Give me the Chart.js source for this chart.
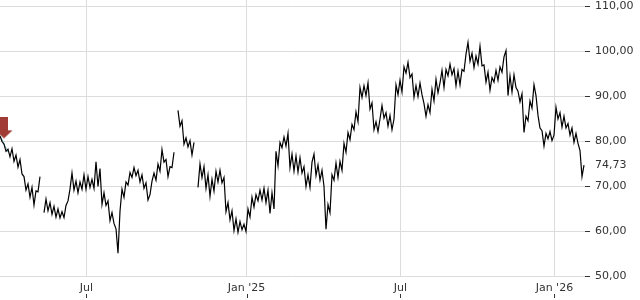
<!DOCTYPE html>
<html>
<head>
<meta charset="utf-8">
<script src="https://cdn.jsdelivr.net/npm/chart.js@4.4.1/dist/chart.umd.min.js"></script>
<style>
  body { margin: 0; background: #fff; }
  #wrap { width: 640px; height: 300px; }
</style>
</head>
<body>
<div id="wrap"><canvas id="priceChart" width="640" height="300"></canvas></div>
<script>
// Price series, one sample per step (null = gap in trading)
const prices = [
  81.2, 80.0, 79.4, 77.8, 78.3, 76.6, 78.4, 75.6, 77.0, 74.3,
  76.0, 72.8, 72.2, 69.2, 70.6, 67.6, 69.8, 65.9, 69.0, 68.8,
  72.2, null, 64.2, 67.2, 64.6, 66.4, 63.8, 65.6, 63.2, 65.0,
  63.0, 64.4, 63.1, 65.8, 66.8, 69.4, 73.0, 69.2, 71.2, 68.6,
  71.0, 69.4, 72.6, 69.4, 72.2, 69.8, 71.6, 69.6, 75.5, 70.0,
  74.0, 66.0, 68.6, 65.8, 66.8, 62.4, 64.2, 61.8, 60.6, 55.2,
  64.5, 69.4, 67.6, 71.0, 70.3, 73.1, 72.0, 74.2, 72.4, 73.6,
  71.0, 72.6, 69.6, 70.8, 67.0, 68.2, 71.2, 73.0, 71.4, 75.0,
  73.4, 78.2, 75.4, 76.0, 72.2, 74.4, 74.2, 77.6, null, 86.9,
  83.4, 84.6, 79.4, 80.8, 78.8, 80.2, 77.0, 79.8, null, 69.8,
  75.0, 72.0, 74.4, 69.6, 72.6, 67.8, 71.6, 69.0, 73.4, 71.0,
  73.6, 70.8, 72.0, 64.4, 66.4, 62.6, 64.6, 60.2, 62.8, 59.8,
  62.2, 60.4, 61.6, 60.0, 65.0, 63.2, 67.6, 65.4, 68.2, 66.8,
  69.2, 67.0, 69.6, 66.4, 69.2, 64.0, 68.6, 65.0, 77.8, 74.6,
  79.8, 78.6, 81.0, 79.0, 81.8, 74.2, 77.2, 73.4, 76.8, 73.2,
  76.4, 73.0, 74.4, 70.0, 72.6, 69.8, 75.4, 77.2, 72.4, 74.8,
  71.4, 73.6, 70.0, 60.5, 66.0, 64.2, 72.6, 71.4, 75.2, 72.0,
  75.6, 73.6, 79.6, 77.6, 82.0, 80.4, 83.8, 82.6, 86.6, 84.4,
  92.0, 89.8, 92.4, 90.2, 93.0, 87.2, 88.6, 82.6, 84.4, 82.2,
  85.0, 88.0, 85.2, 86.4, 83.4, 85.8, 82.6, 85.0, 92.6, 90.4,
  93.6, 91.0, 96.6, 95.2, 97.6, 94.2, 95.0, 89.8, 92.4, 90.0,
  93.0, 90.4, 88.4, 85.6, 88.2, 86.4, 91.6, 89.0, 93.8, 90.8,
  93.0, 95.8, 92.0, 96.0, 94.6, 97.2, 94.8, 96.2, 92.4, 95.6,
  92.6, 96.0, 95.6, 99.4, 102.0, 97.8, 99.6, 96.4, 99.0, 97.2,
  101.2, 96.8, 97.0, 93.2, 95.4, 91.4, 94.2, 93.2, 95.8, 93.6,
  96.6, 95.4, 98.8, 100.2, 90.2, 94.6, 91.0, 94.8, 92.0, 91.2,
  88.8, 90.6, 82.0, 85.6, 84.6, 89.0, 87.4, 92.6, 90.2, 85.8,
  83.0, 82.4, 79.0, 81.8, 80.6, 82.2, 80.2, 81.4, 87.6, 85.0,
  86.4, 83.2, 85.6, 83.0, 84.0, 81.4, 83.0, 79.8, 81.8, 79.6,
  78.0, 72.2, 74.73
];
const lastPrice = 74.73;

// short reference line at the start
const refIdx = [0, 4];
const refVals = [81.4, 77.6];

// signal arrow
const markerIdx = [2];
const markerVals = [80.7];

// axes
const tickPos = [43.2, 123.3, 200.2, 277.2];
const tickLabels = ['Jul', "Jan '25", 'Jul', "Jan '26"];
const yTicks = [50, 60, 70, 80, 90, 100, 110];

// arrow image for the marker, tip sits at the centre of the canvas
const arrow = document.createElement('canvas');
arrow.width = 18;
arrow.height = 42;
const a = arrow.getContext('2d');
a.fillStyle = '#a03c35';
a.fillRect(5, 0, 8, 13);
a.beginPath();
a.moveTo(0.5, 13);
a.lineTo(17.5, 13);
a.lineTo(9, 21);
a.closePath();
a.fill();

const fmt = v => v.toFixed(2).replace('.', ',');

// little tick marks under the date labels
const tickMarks = {
  id: 'tickMarks',
  afterDraw(chart) {
    const s = chart.scales.x;
    const c = chart.ctx;
    c.save();
    c.strokeStyle = '#333';
    c.lineWidth = 1;
    s.ticks.forEach(t => {
      const px = Math.round(s.getPixelForValue(t.value)) + 0.5;
      c.beginPath();
      c.moveTo(px, 294);
      c.lineTo(px, 298);
      c.stroke();
    });
    c.restore();
  }
};

new Chart(document.getElementById('priceChart'), {
  type: 'line',
  data: {
    datasets: [
      {
        data: markerIdx.map((x, i) => ({ x: x, y: markerVals[i] })),
        showLine: false,
        pointStyle: arrow,
        pointRadius: 10,
        clip: false,
        order: 0
      },
      {
        data: prices.map((v, i) => ({ x: i, y: v })),
        borderColor: '#000',
        borderWidth: 1.2,
        pointRadius: 0,
        tension: 0,
        spanGaps: false,
        order: 1
      },
      {
        data: refIdx.map((x, i) => ({ x: x, y: refVals[i] })),
        borderColor: '#79bfc6',
        borderWidth: 1,
        pointRadius: 0,
        order: 2
      }
    ]
  },
  options: {
    responsive: false,
    animation: false,
    devicePixelRatio: 1,
    layout: { padding: 0, autoPadding: false },
    plugins: { legend: { display: false }, tooltip: { enabled: false } },
    scales: {
      x: {
        type: 'linear',
        min: 0,
        max: 292.5,
        afterBuildTicks: s => { s.ticks = tickPos.map(v => ({ value: v })); },
        afterFit: s => { s.height = 23.5; s.paddingLeft = 0; s.paddingRight = 0; },
        grid: { color: '#dcdcdc', drawTicks: false },
        border: { display: false },
        ticks: {
          autoSkip: false,
          maxRotation: 0,
          padding: 5,
          color: '#333',
          font: { family: 'DejaVu Sans', size: 11 },
          callback: (v, i) => tickLabels[i]
        }
      },
      y: {
        position: 'right',
        min: 50,
        max: 111.44,
        afterBuildTicks: s => { s.ticks = yTicks.concat([lastPrice]).map(v => ({ value: v })); },
        afterFit: s => { s.width = 55; s.paddingTop = 0; s.paddingBottom = 0; },
        grid: {
          color: c => c.tick && c.tick.value === lastPrice ? 'rgba(0,0,0,0)' : '#dcdcdc',
          tickColor: c => c.tick && c.tick.value === lastPrice ? 'rgba(0,0,0,0)' : '#333',
          tickLength: 5
        },
        border: { display: false },
        ticks: {
          autoSkip: false,
          padding: 5,
          color: '#333',
          font: { family: 'DejaVu Sans', size: 11 },
          callback: v => fmt(v)
        }
      }
    }
  },
  plugins: [tickMarks]
});
</script>
</body>
</html>
